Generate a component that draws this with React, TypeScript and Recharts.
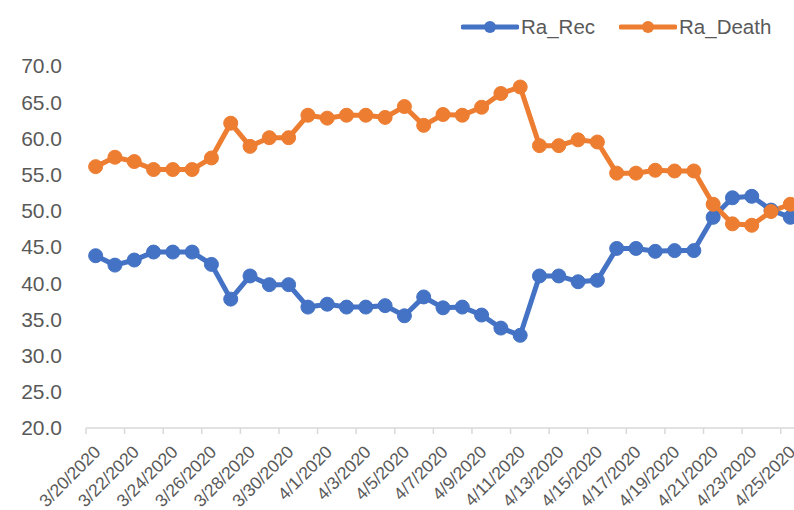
import React from "react"
import {
  LineChart,
  Line,
  XAxis,
  YAxis,
  Legend,
} from "recharts"

const dates = [
  "3/20/2020", "3/21/2020", "3/22/2020", "3/23/2020", "3/24/2020", "3/25/2020",
  "3/26/2020", "3/27/2020", "3/28/2020", "3/29/2020", "3/30/2020", "3/31/2020",
  "4/1/2020", "4/2/2020", "4/3/2020", "4/4/2020", "4/5/2020", "4/6/2020",
  "4/7/2020", "4/8/2020", "4/9/2020", "4/10/2020", "4/11/2020", "4/12/2020",
  "4/13/2020", "4/14/2020", "4/15/2020", "4/16/2020", "4/17/2020", "4/18/2020",
  "4/19/2020", "4/20/2020", "4/21/2020", "4/22/2020", "4/23/2020", "4/24/2020",
  "4/25/2020",
]

const raRec = [
  43.8, 42.5, 43.2, 44.3, 44.3, 44.3, 42.6, 37.8, 41.0, 39.8, 39.8, 36.7,
  37.1, 36.7, 36.7, 36.9, 35.5, 38.1, 36.6, 36.7, 35.6, 33.8, 32.8, 41.0,
  41.0, 40.2, 40.4, 44.8, 44.8, 44.4, 44.5, 44.5, 49.1, 51.8, 52.0, 50.1,
  49.1,
]

const raDeath = [
  56.1, 57.4, 56.8, 55.7, 55.7, 55.7, 57.3, 62.1, 58.9, 60.1, 60.1, 63.2,
  62.8, 63.2, 63.2, 62.9, 64.4, 61.8, 63.3, 63.2, 64.3, 66.2, 67.1, 59.0,
  59.0, 59.8, 59.5, 55.2, 55.2, 55.6, 55.5, 55.5, 50.9, 48.2, 48.0, 49.9,
  50.9,
]

const yTicks = [20, 25, 30, 35, 40, 45, 50, 55, 60, 65, 70]

const BLUE = "#4472C4"
const ORANGE = "#ED7D31"
const TEXT = "#595959"
const FONT = "'Liberation Sans', Arial, sans-serif"

const chartData = dates.map((d, i) => ({
  date: d,
  rec: raRec[i],
  death: raDeath[i],
}))

function DateTick(props: any) {
  const { x, y, payload } = props
  const half = payload && payload.offset ? payload.offset : 9.65
  const lx = x + 6
  const ly = y + 25
  return (
    <g>
      <line x1={x - half} y1={y} x2={x - half} y2={y + 6} stroke="#d9d9d9" strokeWidth={1.5} />
      <text
        x={lx}
        y={ly}
        transform={`rotate(-45, ${lx}, ${ly})`}
        textAnchor="end"
        fontSize={17.5}
        fontFamily={FONT}
        fill={TEXT}
      >
        {payload.value}
      </text>
    </g>
  )
}

function LegendBox() {
  const items = [
    { name: "Ra_Rec", color: BLUE },
    { name: "Ra_Death", color: ORANGE },
  ]
  return (
    <div style={{ display: "flex", alignItems: "center", fontFamily: FONT, fontSize: 20.5, color: TEXT }}>
      {items.map((it, i) => (
        <div key={it.name} style={{ display: "flex", alignItems: "center", marginLeft: i ? 24 : 0 }}>
          <svg width={58} height={14}>
            <line x1={2} y1={7} x2={56} y2={7} stroke={it.color} strokeWidth={5} strokeLinecap="round" />
            <circle cx={29} cy={7} r={6} fill={it.color} />
          </svg>
          <span style={{ marginLeft: 2 }}>{it.name}</span>
        </div>
      ))}
    </div>
  )
}

export default function App() {
  return (
    <div style={{ position: "fixed", left: 0, top: 0, width: 794, height: 510, overflow: "hidden", background: "#fff" }}>
      <LineChart
        width={820}
        height={510}
        data={chartData}
        margin={{ top: 42, right: 20, left: 8, bottom: 0 }}
      >
        <XAxis
          dataKey="date"
          scale="band"
          interval={1}
          height={82}
          tickSize={0}
          tickMargin={0}
          tickLine={false}
          axisLine={{ stroke: "#d9d9d9", strokeWidth: 1.5 }}
          tick={<DateTick />}
        />
        <YAxis
          width={78}
          domain={[20, 70]}
          ticks={yTicks}
          axisLine={false}
          tickLine={false}
          tickSize={0}
          tickMargin={24}
          tickFormatter={(v: number) => v.toFixed(1)}
          tick={{ fontSize: 21, fill: TEXT, fontFamily: FONT }}
        />
        <Legend
          verticalAlign="top"
          content={() => <LegendBox />}
          wrapperStyle={{ position: "absolute", top: 15, left: 461, width: "auto" }}
        />
        <Line
          dataKey="rec"
          name="Ra_Rec"
          stroke={BLUE}
          strokeWidth={5}
          dot={{ r: 7, fill: BLUE, stroke: BLUE, strokeWidth: 1 }}
          isAnimationActive={false}
        />
        <Line
          dataKey="death"
          name="Ra_Death"
          stroke={ORANGE}
          strokeWidth={5}
          dot={{ r: 7, fill: ORANGE, stroke: ORANGE, strokeWidth: 1 }}
          isAnimationActive={false}
        />
      </LineChart>
    </div>
  )
}
